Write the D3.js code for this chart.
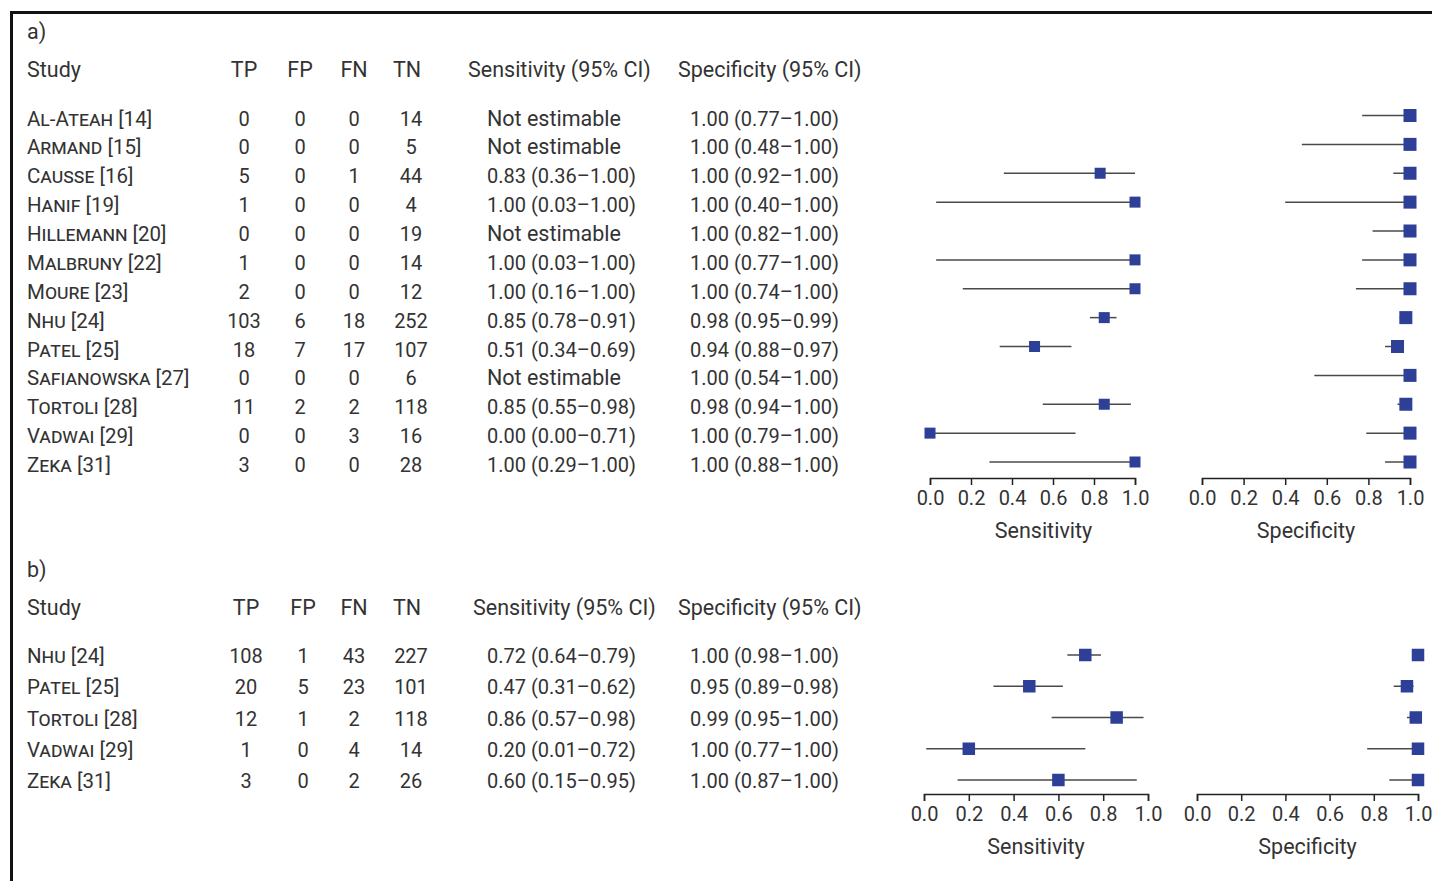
<!DOCTYPE html>
<html>
<head>
<meta charset="utf-8">
<script src="https://cdn.jsdelivr.net/npm/d3@7"></script>
<style>
  body { margin: 0; background: #fff; }
  svg text { font-family: Roboto, "DejaVu Sans", sans-serif; fill: #333; font-size: 20px; }
  .name { font-variant: small-caps; font-size: 20.5px; }
  .word { font-size: 21.5px; }
</style>
</head>
<body>
<svg id="chart"></svg>
<script>
var width = 1432,
    height = 881;

// panel a
var studiesA = ["Al-Ateah [14]", "Armand [15]", "Causse [16]", "Hanif [19]", "Hillemann [20]", "Malbruny [22]", "Moure [23]", "Nhu [24]", "Patel [25]", "Safianowska [27]", "Tortoli [28]", "Vadwai [29]", "Zeka [31]"];
var tpA = [0, 0, 5, 1, 0, 1, 2, 103, 18, 0, 11, 0, 3];
var fpA = [0, 0, 0, 0, 0, 0, 0, 6, 7, 0, 2, 0, 0];
var fnA = [0, 0, 1, 0, 0, 0, 0, 18, 17, 0, 2, 3, 0];
var tnA = [14, 5, 44, 4, 19, 14, 12, 252, 107, 6, 118, 16, 28];
var sensA   = [null, null, 0.83, 1.00, null, 1.00, 1.00, 0.85, 0.51, null, 0.85, 0.00, 1.00];
var sensLoA = [null, null, 0.36, 0.03, null, 0.03, 0.16, 0.78, 0.34, null, 0.55, 0.00, 0.29];
var sensHiA = [null, null, 1.00, 1.00, null, 1.00, 1.00, 0.91, 0.69, null, 0.98, 0.71, 1.00];
var specA   = [1.00, 1.00, 1.00, 1.00, 1.00, 1.00, 1.00, 0.98, 0.94, 1.00, 0.98, 1.00, 1.00];
var specLoA = [0.77, 0.48, 0.92, 0.40, 0.82, 0.77, 0.74, 0.95, 0.88, 0.54, 0.94, 0.79, 0.88];
var specHiA = [1.00, 1.00, 1.00, 1.00, 1.00, 1.00, 1.00, 0.99, 0.97, 1.00, 1.00, 1.00, 1.00];

// panel b
var studiesB = ["Nhu [24]", "Patel [25]", "Tortoli [28]", "Vadwai [29]", "Zeka [31]"];
var tpB = [108, 20, 12, 1, 3];
var fpB = [1, 5, 1, 0, 0];
var fnB = [43, 23, 2, 4, 2];
var tnB = [227, 101, 118, 14, 26];
var sensB   = [0.72, 0.47, 0.86, 0.20, 0.60];
var sensLoB = [0.64, 0.31, 0.57, 0.01, 0.15];
var sensHiB = [0.79, 0.62, 0.98, 0.72, 0.95];
var specB   = [1.00, 0.95, 0.99, 1.00, 1.00];
var specLoB = [0.98, 0.89, 0.95, 0.77, 0.87];
var specHiB = [1.00, 0.98, 1.00, 1.00, 1.00];

var tickVals = [0, 0.2, 0.4, 0.6, 0.8, 1.0];
var colHeads = ["TP", "FP", "FN", "TN"];

var blue = "#2e3f97";

var svg = d3.select("#chart")
    .attr("width", width)
    .attr("height", height);

// frame (top and left edge)
svg.append("path")
    .attr("d", "M11.5,881V12.5H1432")
    .attr("fill", "none")
    .attr("stroke", "#111")
    .attr("stroke-width", 3);

function fmt(v, lo, hi) {
    if (v == null) return "Not estimable";
    return v.toFixed(2) + " (" + lo.toFixed(2) + "\u2013" + hi.toFixed(2) + ")";
}

function drawPanel(p) {
    var g = svg.append("g");
    var n = p.studies.length;
    var rows = d3.range(n);

    var y = d3.scaleLinear()
        .domain([0, n - 1])
        .range([p.rowTop, p.rowBottom]);

    g.append("text").attr("x", 27).attr("y", p.labelY)
        .attr("class", "word").text(p.label);

    g.append("text").attr("x", 27).attr("y", p.headY)
        .attr("class", "word").text("Study");

    g.selectAll(".colhead")
        .data(colHeads)
      .enter().append("text")
        .attr("class", "word")
        .attr("x", function(d, i) { return p.colX[i]; })
        .attr("y", p.headY)
        .attr("text-anchor", "middle")
        .text(function(d) { return d; });

    g.append("text").attr("x", p.sensHeadX).attr("y", p.headY)
        .attr("class", "word").text("Sensitivity (95% CI)");
    g.append("text").attr("x", 678).attr("y", p.headY)
        .attr("class", "word").text("Specificity (95% CI)");

    var row = g.selectAll(".row")
        .data(rows)
      .enter().append("g")
        .attr("class", "row")
        .attr("transform", function(i) { return "translate(0," + y(i) + ")"; });

    row.append("text")
        .attr("class", "name")
        .attr("x", 27).attr("y", 8)
        .text(function(i) { return p.studies[i]; });

    var cells = [p.tp, p.fp, p.fn, p.tn];
    cells.forEach(function(arr, c) {
        row.append("text")
            .attr("x", p.colX[c] + (c == 3 ? 4 : 0)).attr("y", 8)
            .attr("text-anchor", "middle")
            .text(function(i) { return arr[i]; });
    });

    row.append("text")
        .attr("x", 487).attr("y", 8)
        .attr("class", function(i) { return p.sens[i] == null ? "word" : null; })
        .text(function(i) { return fmt(p.sens[i], p.sensLo[i], p.sensHi[i]); });

    row.append("text")
        .attr("x", 690).attr("y", 8)
        .text(function(i) { return fmt(p.spec[i], p.specLo[i], p.specHi[i]); });

    // forest plots
    [
      {v: p.sens, lo: p.sensLo, hi: p.sensHi, range: p.sensRange, title: "Sensitivity", size: p.sensSize, dx: p.sensTitleDx},
      {v: p.spec, lo: p.specLo, hi: p.specHi, range: p.specRange, title: "Specificity", size: p.specSize, dx: 0}
    ].forEach(function(f) {
        var x = d3.scaleLinear().domain([0, 1]).range(f.range);
        var fg = g.append("g");
        var est = rows.filter(function(i) { return f.v[i] != null; });
        var my = function(i) { return y(i) + p.markDy; };

        fg.selectAll(".ci")
            .data(est)
          .enter().append("line")
            .attr("x1", function(i) { return x(f.lo[i]); })
            .attr("x2", function(i) { return x(f.hi[i]); })
            .attr("y1", my)
            .attr("y2", my)
            .attr("stroke", "#4a4a4a")
            .attr("stroke-width", 1.5);

        fg.selectAll(".pt")
            .data(est)
          .enter().append("rect")
            .attr("x", function(i) { return x(f.v[i]) - f.size / 2; })
            .attr("y", function(i) { return my(i) - f.size / 2; })
            .attr("width", f.size)
            .attr("height", f.size)
            .attr("fill", blue);

        var axis = d3.axisBottom(x)
            .tickValues(tickVals)
            .tickFormat(d3.format(".1f"))
            .tickSizeOuter(0)
            .tickSize(7)
            .tickPadding(6);

        var ax = fg.append("g")
            .attr("transform", "translate(0," + p.axisY + ")")
            .call(axis);
        ax.select(".domain").attr("stroke", "#222").attr("stroke-width", 1.5);
        ax.selectAll(".tick line").attr("stroke", "#222").attr("stroke-width", 1.5);
        ax.selectAll(".tick text")
            .style("font-size", "20px")
            .style("font-family", "Roboto, sans-serif")
            .attr("fill", "#333");

        fg.append("text")
            .attr("class", "word")
            .attr("x", (f.range[0] + f.range[1]) / 2 + f.dx)
            .attr("y", p.axisY + 60)
            .attr("text-anchor", "middle")
            .text(f.title);
    });
}

drawPanel({
    label: "a)", labelY: 39, headY: 77,
    rowTop: 117.5, rowBottom: 464,
    colX: [244, 300, 354, 407],
    sensHeadX: 468,
    studies: studiesA, tp: tpA, fp: fpA, fn: fnA, tn: tnA,
    sens: sensA, sensLo: sensLoA, sensHi: sensHiA,
    spec: specA, specLo: specLoA, specHi: specHiA,
    sensRange: [930, 1135], specRange: [1202, 1410],
    sensSize: 11, specSize: 13,
    sensTitleDx: 11, markDy: -2,
    axisY: 478
});

drawPanel({
    label: "b)", labelY: 577, headY: 615,
    rowTop: 655, rowBottom: 780,
    colX: [246, 303, 354, 407],
    sensHeadX: 473,
    studies: studiesB, tp: tpB, fp: fpB, fn: fnB, tn: tnB,
    sens: sensB, sensLo: sensLoB, sensHi: sensHiB,
    spec: specB, specLo: specLoB, specHi: specHiB,
    sensRange: [924, 1148], specRange: [1197, 1418],
    sensSize: 12.5, specSize: 12.5,
    sensTitleDx: 0, markDy: 0,
    axisY: 794
});
</script>
</body>
</html>
